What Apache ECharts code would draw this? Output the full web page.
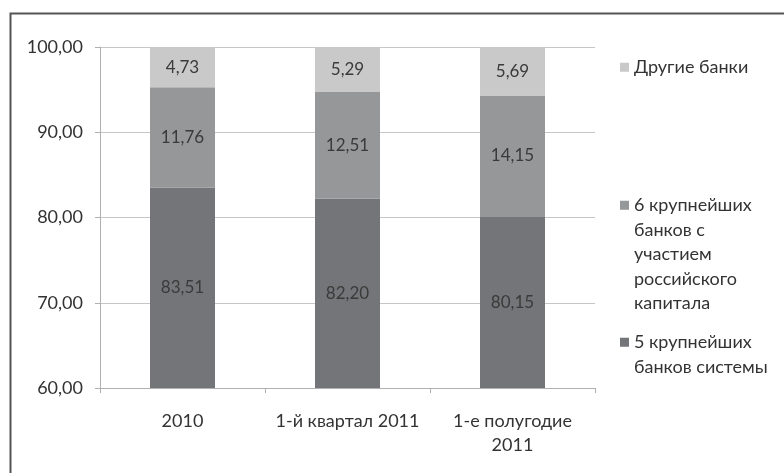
<!DOCTYPE html>
<html>
<head>
<meta charset="utf-8">
<script src="https://cdn.jsdelivr.net/npm/echarts@6/dist/echarts.min.js"></script>
<style>html,body{margin:0;padding:0;background:#fff}#c{width:784px;height:473px}</style>
</head>
<body>
<div id="c"></div>
<script>
var categories = ['2010', '1-й квартал 2011', '1-е полугодие\n2011'];
var seriesNames = ['5 крупнейших\nбанков системы', '6 крупнейших\nбанков с\nучастием\nроссийского\nкапитала', 'Другие банки'];
var top5 = [83.51, 82.20, 80.15];
var top6 = [11.76, 12.51, 14.15];
var others = [4.73, 5.29, 5.69];
var yTicks = [60, 70, 80, 90, 100];

var FONT = 'Lato, "Open Sans", sans-serif';
var colors = ['#747578', '#959799', '#c9c9c9'];
function fmt(v){ return Number(v).toFixed(2).replace('.', ','); }

var chart = echarts.init(document.getElementById('c'));
var dataSets = [top5, top6, others];
var series = dataSets.map(function(d, i){
  return {
    name: seriesNames[i], type: 'bar', stack: 's', data: d,
    barWidth: 65,
    itemStyle: {color: colors[i]},
    label: {show: true, position: 'inside', formatter: function(p){return fmt(p.value);},
      color: '#3a3a3a', fontFamily: FONT, fontSize: 17}
  };
});
var LH = 24.5;
var legendTops = [330, 193, 55];
var legends = [0,1,2].map(function(i){
  var n = seriesNames[i].split('\n').length;
  var h = n * LH;
  var sq = LH / 2 - 4.5;
  var icon = 'path://M0,0L0.01,0M0,' + h + 'L0.01,' + h +
    'M0,' + sq + 'L9,' + sq + 'L9,' + (sq + 9) + 'L0,' + (sq + 9) + 'Z';
  return {
    data: [seriesNames[i]], left: 620, top: legendTops[i], orient: 'vertical',
    itemWidth: 9, itemHeight: h, itemGap: 0, icon: icon, padding: 0,
    selectedMode: false,
    textStyle: {fontFamily: FONT, fontSize: 18, color: '#333', lineHeight: LH}
  };
});
chart.setOption({
  animation: false,
  color: colors,
  legend: legends,
  grid: {left: 100, right: 189, top: 47, bottom: 85},
  xAxis: {
    type: 'category', data: categories,
    axisLine: {lineStyle: {color: '#b0b0b0'}},
    axisTick: {show: true, alignWithLabel: false, length: 5, lineStyle: {color: '#b0b0b0'}},
    axisLabel: {interval: 0, hideOverlap: false, fontFamily: FONT, fontSize: 18, color: '#333', margin: 21, lineHeight: 24}
  },
  yAxis: {
    type: 'value', min: yTicks[0], max: yTicks[yTicks.length-1], interval: 10,
    axisLine: {show: true, lineStyle: {color: '#b0b0b0'}},
    axisTick: {show: true, length: 5, lineStyle: {color: '#b0b0b0'}},
    splitLine: {lineStyle: {color: '#c6c6c6'}},
    axisLabel: {formatter: fmt, fontFamily: FONT, fontSize: 18, color: '#333', margin: 17}
  },
  graphic: [{
    type: 'polyline', shape: {points: [[10.5, 473], [10.5, 13.5], [784, 13.5]]},
    style: {stroke: '#555', lineWidth: 2, fill: null}
  }],
  series: series
});
</script>
</body>
</html>
